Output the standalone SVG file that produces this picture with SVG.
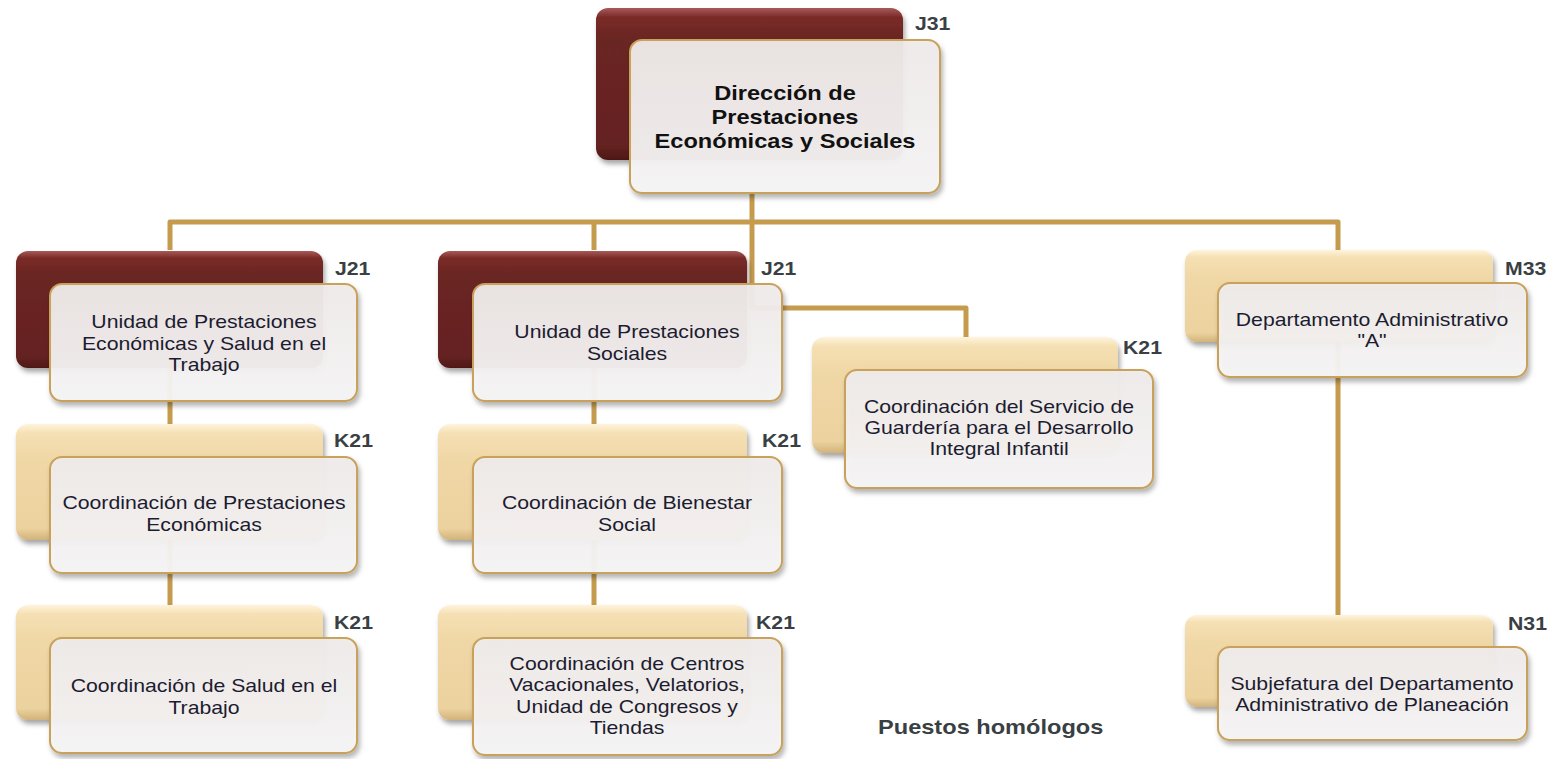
<svg xmlns="http://www.w3.org/2000/svg" width="1552" height="759" viewBox="0 0 1552 759">
<style>
.conn{fill:none;stroke:#c59b4e;stroke-width:5;stroke-linejoin:round;stroke-linecap:butt}
.dark{fill:url(#gDark);filter:url(#sh)}
.tan{fill:url(#gTan);filter:url(#sh)}
.front{fill:url(#gFront);fill-opacity:0.95;stroke:#c8a15a;stroke-width:2;filter:url(#sh2)}
.t{font-family:"Liberation Sans",Arial,sans-serif;font-size:18px;fill:#1c1c30;text-anchor:middle}
.tb{font-family:"Liberation Sans",Arial,sans-serif;font-size:20px;font-weight:bold;fill:#111111;text-anchor:middle}
.lbl{font-family:"Liberation Sans",Arial,sans-serif;font-size:18px;font-weight:bold;fill:#3a3f44}
.foot{font-family:"Liberation Sans",Arial,sans-serif;font-size:20px;font-weight:bold;fill:#3a3f44}
</style>
<defs>
<linearGradient id="gDark" x1="0" y1="0" x2="0" y2="1">
<stop offset="0" stop-color="#a85a58"/>
<stop offset="0.06" stop-color="#7a2c28"/>
<stop offset="0.2" stop-color="#6a2522"/>
<stop offset="0.9" stop-color="#652320"/>
<stop offset="1" stop-color="#4e1816"/>
</linearGradient>
<linearGradient id="gTan" x1="0" y1="0" x2="0" y2="1">
<stop offset="0" stop-color="#fff4dc"/>
<stop offset="0.08" stop-color="#f5e0b4"/>
<stop offset="0.3" stop-color="#f0d7a6"/>
<stop offset="0.9" stop-color="#ecd29e"/>
<stop offset="1" stop-color="#d2b37a"/>
</linearGradient>
<linearGradient id="gFront" x1="0" y1="0" x2="0" y2="1">
<stop offset="0" stop-color="#efebea"/>
<stop offset="1" stop-color="#f6f5f5"/>
</linearGradient>
<filter id="sh" x="-10%" y="-10%" width="120%" height="130%">
<feDropShadow dx="2" dy="4" stdDeviation="2.5" flood-color="#000" flood-opacity="0.35"/>
</filter>
<filter id="sh2" x="-10%" y="-10%" width="120%" height="130%">
<feDropShadow dx="2" dy="4" stdDeviation="2.5" flood-color="#000" flood-opacity="0.3"/>
</filter>
</defs>
<rect width="1552" height="759" fill="#ffffff"/>
<g id="connectors">
<path class="conn" d="M170,250 V222 H1338 V250"/>
<path class="conn" d="M594,222 V250"/>
<path class="conn" d="M752,193 V308 H966 V337"/>
<path class="conn" d="M170,368 V605"/>
<path class="conn" d="M594,368 V605"/>
<path class="conn" d="M1338,342 V615"/>
</g>
<g id="node-direccion">
<rect class="dark" x="596" y="8" width="307" height="152" rx="12"/>
<rect class="front" x="630" y="40" width="310" height="153" rx="12"/>
<text class="tb" transform="translate(785 0) scale(1.18 1)"><tspan x="0" y="100">Dirección de</tspan><tspan x="0" y="124">Prestaciones</tspan><tspan x="0" y="148">Económicas y Sociales</tspan></text>
<text class="lbl" transform="translate(915 0) scale(1.18 1)" x="0" y="30">J31</text>
</g>
<g id="node-upest">
<rect class="dark" x="16" y="251" width="307" height="117" rx="12"/>
<rect class="front" x="50" y="284" width="307" height="117" rx="12"/>
<text class="t" transform="translate(204 0) scale(1.18 1)"><tspan x="0" y="328">Unidad de Prestaciones</tspan><tspan x="0" y="350">Económicas y Salud en el</tspan><tspan x="0" y="371">Trabajo</tspan></text>
<text class="lbl" transform="translate(335 0) scale(1.18 1)" x="0" y="275">J21</text>
</g>
<g id="node-ups">
<rect class="dark" x="438" y="251" width="309" height="117" rx="12"/>
<rect class="front" x="473" y="284" width="309" height="117" rx="12"/>
<text class="t" transform="translate(627 0) scale(1.18 1)"><tspan x="0" y="338">Unidad de Prestaciones</tspan><tspan x="0" y="360">Sociales</tspan></text>
<text class="lbl" transform="translate(761 0) scale(1.18 1)" x="0" y="275">J21</text>
</g>
<g id="node-guarderia">
<rect class="tan" x="812" y="337" width="306" height="116" rx="12"/>
<rect class="front" x="845" y="370" width="308" height="118" rx="12"/>
<text class="t" transform="translate(999 0) scale(1.18 1)"><tspan x="0" y="413">Coordinación del Servicio de</tspan><tspan x="0" y="434">Guardería para el Desarrollo</tspan><tspan x="0" y="455">Integral Infantil</tspan></text>
<text class="lbl" transform="translate(1123 0) scale(1.18 1)" x="0" y="354">K21</text>
</g>
<g id="node-depto">
<rect class="tan" x="1185" y="250" width="308" height="92" rx="12"/>
<rect class="front" x="1218" y="283" width="309" height="94" rx="12"/>
<text class="t" transform="translate(1372 0) scale(1.18 1)"><tspan x="0" y="326">Departamento Administrativo</tspan><tspan x="0" y="347">"A"</tspan></text>
<text class="lbl" transform="translate(1505 0) scale(1.18 1)" x="0" y="275">M33</text>
</g>
<g id="node-cpe">
<rect class="tan" x="16" y="424" width="307" height="116" rx="12"/>
<rect class="front" x="50" y="457" width="307" height="116" rx="12"/>
<text class="t" transform="translate(204 0) scale(1.18 1)"><tspan x="0" y="509">Coordinación de Prestaciones</tspan><tspan x="0" y="531">Económicas</tspan></text>
<text class="lbl" transform="translate(334 0) scale(1.18 1)" x="0" y="447">K21</text>
</g>
<g id="node-cst">
<rect class="tan" x="16" y="605" width="307" height="115" rx="12"/>
<rect class="front" x="50" y="638" width="307" height="115" rx="12"/>
<text class="t" transform="translate(204 0) scale(1.18 1)"><tspan x="0" y="692">Coordinación de Salud en el</tspan><tspan x="0" y="714">Trabajo</tspan></text>
<text class="lbl" transform="translate(334 0) scale(1.18 1)" x="0" y="629">K21</text>
</g>
<g id="node-cbs">
<rect class="tan" x="438" y="424" width="309" height="116" rx="12"/>
<rect class="front" x="473" y="457" width="309" height="116" rx="12"/>
<text class="t" transform="translate(627 0) scale(1.18 1)"><tspan x="0" y="509">Coordinación de Bienestar</tspan><tspan x="0" y="531">Social</tspan></text>
<text class="lbl" transform="translate(762 0) scale(1.18 1)" x="0" y="447">K21</text>
</g>
<g id="node-ccv">
<rect class="tan" x="438" y="605" width="309" height="115" rx="12"/>
<rect class="front" x="473" y="638" width="309" height="117" rx="12"/>
<text class="t" transform="translate(627 0) scale(1.18 1)"><tspan x="0" y="670">Coordinación de Centros</tspan><tspan x="0" y="691">Vacacionales, Velatorios,</tspan><tspan x="0" y="713">Unidad de Congresos y</tspan><tspan x="0" y="734">Tiendas</tspan></text>
<text class="lbl" transform="translate(756 0) scale(1.18 1)" x="0" y="629">K21</text>
</g>
<g id="node-subjefatura">
<rect class="tan" x="1185" y="615" width="308" height="92" rx="12"/>
<rect class="front" x="1218" y="647" width="309" height="93" rx="12"/>
<text class="t" transform="translate(1372 0) scale(1.18 1)"><tspan x="0" y="690">Subjefatura del Departamento</tspan><tspan x="0" y="711">Administrativo de Planeación</tspan></text>
<text class="lbl" transform="translate(1508 0) scale(1.18 1)" x="0" y="630">N31</text>
</g>
<text class="foot" transform="translate(878 0) scale(1.18 1)" x="0" y="734">Puestos homólogos</text>
</svg>
